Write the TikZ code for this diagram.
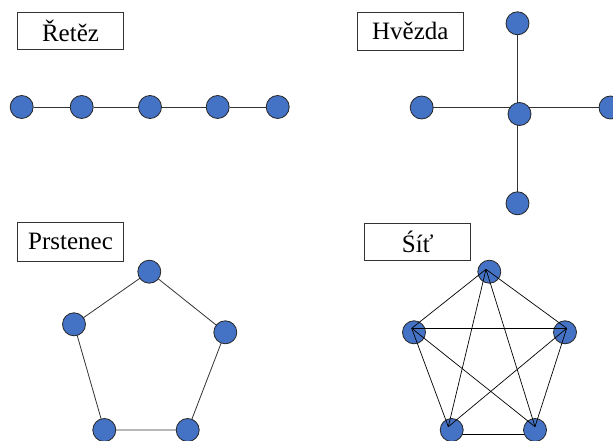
\documentclass[tikz,border=0pt]{standalone}
\usepackage{fontspec}
\setmainfont{Liberation Serif}
\newfontfamily\lserif{Liberation Serif}
\usetikzlibrary{backgrounds}
\begin{document}
\begin{tikzpicture}[x=1pt,y=-1pt,
  dot/.style={circle,inner sep=0pt,minimum size=23pt,
    fill={rgb,255:red,68;green,114;blue,196},draw=black!85,line width=0.8pt},
  label box/.style={draw=black!80,line width=0.8pt,inner sep=0pt,
    font=\lserif\fontsize{25}{30}\selectfont},
  edge/.style={draw=black!80,line width=0.8pt},
  web/.style={draw=black,line width=0.7pt}]
\useasboundingbox (0,0) rectangle (613,441);

% Labels
\node[label box,minimum width=105.6pt,minimum height=37pt] (bRet) at (70.5,30.8) {Řetěz};
\node[label box,minimum width=106pt,minimum height=37.7pt] (bHve) at (410.3,31.2) {Hvězda};
\node[label box,minimum width=105.6pt,minimum height=38.3pt] (bPrs) at (70.5,241.9) {Prstenec};
\node[label box,minimum width=106pt,minimum height=36.7pt] (bSit) at (417.7,241.7) {Śíť};

% Chain
\node[dot] (n1) at (21.7,107) {};
\node[dot] (n2) at (81.7,107) {};
\node[dot] (n3) at (150,107) {};
\node[dot] (n4) at (217.7,107) {};
\node[dot] (n5) at (277.7,107) {};
\begin{scope}[on background layer]
\draw[edge] (n1) -- (n2) -- (n3) -- (n4) -- (n5);
\end{scope}

% Star
\node[dot] (hL) at (421.7,107.5) {};
\node[dot] (hR) at (610.5,107.5) {};
\node[dot] (hT) at (517.5,23.3) {};
\node[dot] (hB) at (517.5,203.3) {};
\node[dot] (hC) at (519.5,114) {};
\begin{scope}[on background layer]
\draw[edge] (hL.center) -- (hR.center);
\draw[edge] (hT.center) -- (hB.center);
\end{scope}

% Ring
\node[dot] (r1) at (149.3,271.7) {};
\node[dot] (r2) at (225.3,332.3) {};
\node[dot] (r3) at (187.7,430) {};
\node[dot] (r4) at (104.3,430) {};
\node[dot] (r5) at (74,324.3) {};
\begin{scope}[on background layer]
\draw[edge] (r1.center) -- (r2.center) -- (r3.center) -- (r4.center) -- (r5.center) -- cycle;
\end{scope}

% Mesh
\node[dot] (m1) at (489.3,271.7) {};
\node[dot] (m2) at (565,332.3) {};
\node[dot] (m3) at (535,430) {};
\node[dot] (m4) at (451.7,430) {};
\node[dot] (m5) at (414,332.3) {};
\coordinate (m4b) at (451.7,434);
\coordinate (m3b) at (535,434);
\begin{scope}[on background layer]
\draw[web] (m4b) -- (m3b);
\end{scope}
\coordinate (p1) at (486,269.3);
\coordinate (p2) at (566.7,328.3);
\coordinate (p3) at (535,426.7);
\coordinate (p4) at (448.3,426.7);
\coordinate (p5) at (411.7,328.3);
\draw[web] (p1) -- (p2) -- (p3);
\draw[web] (p4) -- (p5) -- (p1);
\draw[web] (p1) -- (p3);
\draw[web] (p1) -- (p4);
\draw[web] (p5) -- (p2);
\draw[web] (p5) -- (p3);
\draw[web] (p2) -- (p4);
\end{tikzpicture}
\end{document}
